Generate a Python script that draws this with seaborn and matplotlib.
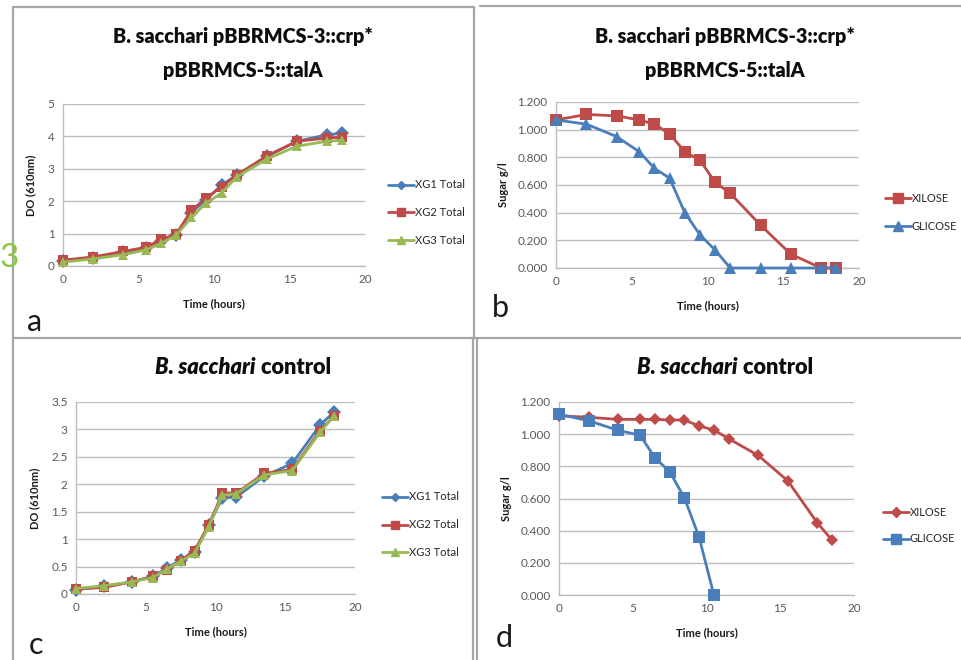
import numpy as np
import pandas as pd
import matplotlib
matplotlib.use("Agg")
import matplotlib.pyplot as plt
import seaborn as sns
from matplotlib.lines import Line2D

sns.set_theme(style="white")
plt.rcParams['font.family'] = ['Lato', 'DejaVu Sans']

# ---------------- data ----------------
time = [0, 2, 4, 5.5, 6.5, 7.5, 8.5, 9.5, 10.5, 11.5, 13.5, 15.5, 17.5, 18.5]

# panel a: growth, pBBRMCS-3::crp* pBBRMCS-5::talA
a_xg1 = [0.15, 0.25, 0.42, 0.55, 0.78, 0.97, 1.65, 2.05, 2.50, 2.80, 3.38, 3.85, 4.05, 4.10]
a_xg2 = [0.18, 0.28, 0.45, 0.58, 0.82, 0.98, 1.72, 2.10, 2.45, 2.80, 3.40, 3.85, 3.95, 3.98]
a_xg3 = [0.12, 0.22, 0.35, 0.50, 0.70, 0.95, 1.50, 1.95, 2.25, 2.75, 3.30, 3.70, 3.85, 3.88]

# panel b: sugars, pBBRMCS-3::crp* pBBRMCS-5::talA
b_xilose = [1.07, 1.11, 1.10, 1.07, 1.04, 0.97, 0.84, 0.78, 0.62, 0.54, 0.31, 0.10, 0.0, 0.0]
b_glicose = [1.07, 1.04, 0.95, 0.84, 0.72, 0.65, 0.40, 0.24, 0.13, 0.0, 0.0, 0.0, 0.0, 0.0]

# panel c: growth, control
c_xg1 = [0.08, 0.14, 0.22, 0.32, 0.47, 0.62, 0.76, 1.25, 1.75, 1.77, 2.15, 2.38, 3.08, 3.32]
c_xg2 = [0.09, 0.12, 0.22, 0.32, 0.44, 0.61, 0.79, 1.25, 1.84, 1.84, 2.20, 2.27, 2.98, 3.24]
c_xg3 = [0.10, 0.15, 0.22, 0.30, 0.45, 0.60, 0.74, 1.22, 1.80, 1.83, 2.17, 2.25, 2.95, 3.25]

# panel d: sugars, control
d_time_gli = [0, 2, 4, 5.5, 6.5, 7.5, 8.5, 9.5, 10.5]
d_xilose = [1.115, 1.105, 1.092, 1.092, 1.092, 1.088, 1.088, 1.051, 1.026, 0.972, 0.868, 0.711, 0.450, 0.342]
d_glicose = [1.123, 1.084, 1.024, 0.993, 0.854, 0.767, 0.605, 0.359, 0.0]

growth_names = ["XG1 Total", "XG2 Total", "XG3 Total"]
sugar_names = ["XILOSE", "GLICOSE"]
title_top = ["B. sacchari pBBRMCS-3::crp*", "pBBRMCS-5::talA"]
panel_letters = ["a", "b", "c", "d"]

BLUE = "#4A7EBB"
RED = "#BE4B48"
GREEN = "#98B954"
TICKC = "#595959"
GRIDC = "#BDBDBD"

W, H = 961, 660
fig = plt.figure(figsize=(W / 100, H / 100), dpi=100)


def ax_at(x0, y0, x1, y1):
    return fig.add_axes([x0 / W, 1 - y1 / H, (x1 - x0) / W, (y1 - y0) / H])


def long_df(t, series, names):
    rows = []
    for name, vals in zip(names, series):
        for tt, v in zip(t, vals):
            rows.append({"Time": tt, "val": v, "series": name})
    return pd.DataFrame(rows)


def style_ax(ax, ymax, ystep, fmt):
    ax.set_xlim(0, 20)
    ax.set_ylim(0, ymax)
    ax.set_xticks(np.arange(0, 21, 5))
    yt = np.arange(0, ymax + 1e-9, ystep)
    ax.set_yticks(yt)
    ax.set_yticklabels([fmt(v) for v in yt])
    ax.tick_params(axis="both", length=0, labelsize=8.5, colors=TICKC, pad=6)
    ax.grid(axis="y", color=GRIDC, lw=1)
    ax.grid(axis="x", visible=False)
    ax.set_axisbelow(True)
    for s in ["top", "right"]:
        ax.spines[s].set_visible(False)
    for s in ["left", "bottom"]:
        ax.spines[s].set_color(GRIDC)
        ax.spines[s].set_linewidth(1)
        ax.spines[s].set_zorder(0.5)
    for ln in ax.get_lines():
        ln.set_clip_on(False)
        ln.set_zorder(3)
    ax.set_xlabel("Time (hours)", fontsize=8, fontweight="bold", color="#1a1a1a", labelpad=9)
    ax.set_facecolor("white")


def fmt_int(v):
    return f"{v:g}"


def fmt3(v):
    return f"{v:.3f}"


def add_legend(entries, x0, ys):
    for (lab, col, mk, ms), y in zip(entries, ys):
        yf = 1 - y / H
        fig.add_artist(Line2D([x0 / W, (x0 + 26) / W], [yf, yf], color=col, lw=2,
                              transform=fig.transFigure))
        fig.add_artist(Line2D([(x0 + 13) / W], [yf], color=col, marker=mk, ms=ms,
                              transform=fig.transFigure))
        fig.text((x0 + 27) / W, yf, lab, fontsize=8, color="#262626", va="center", ha="left")


# ---------- panel a ----------
axa = ax_at(63, 104, 365, 266)
dfa = long_df(time, [a_xg1, a_xg2, a_xg3], growth_names)
sns.lineplot(data=dfa, x="Time", y="val", hue="series", style="series",
             palette=[BLUE, RED, GREEN], markers=["D", "s", "^"], dashes=False,
             lw=2, markersize=7, markeredgewidth=0, ax=axa, legend=False)
style_ax(axa, 5, 1, fmt_int)
axa.set_ylabel("DO (610nm)", fontsize=8, fontweight="bold", color="#1a1a1a", labelpad=8)

# ---------- panel b ----------
axb = ax_at(556, 102, 859, 268)
dfb = long_df(time, [b_xilose, b_glicose], sugar_names)
sns.lineplot(data=dfb, x="Time", y="val", hue="series", style="series",
             palette=[RED, BLUE], markers=["s", "^"], dashes=False,
             lw=2, markersize=8, markeredgewidth=0, ax=axb, legend=False)
style_ax(axb, 1.2, 0.2, fmt3)
axb.set_ylabel("Sugar g/l", fontsize=8, fontweight="bold", color="#1a1a1a", labelpad=6)

# ---------- panel c ----------
axc = ax_at(76, 402, 355, 594)
dfc = long_df(time, [c_xg1, c_xg2, c_xg3], growth_names)
sns.lineplot(data=dfc, x="Time", y="val", hue="series", style="series",
             palette=[BLUE, RED, GREEN], markers=["D", "s", "^"], dashes=False,
             lw=2, markersize=7, markeredgewidth=0, ax=axc, legend=False)
style_ax(axc, 3.5, 0.5, fmt_int)
axc.set_ylabel("DO (610nm)", fontsize=8, fontweight="bold", color="#1a1a1a", labelpad=8)

# ---------- panel d ----------
axd = ax_at(559, 402, 854, 595)
dfd = pd.concat([
    long_df(time, [d_xilose], ["XILOSE"]),
    long_df(d_time_gli, [d_glicose], ["GLICOSE"]),
])
sns.lineplot(data=dfd, x="Time", y="val", hue="series", style="series",
             palette=[RED, BLUE], markers=["D", "s"], dashes=False,
             lw=2, markersize=9, markeredgewidth=0, ax=axd, legend=False)
for ln in axd.get_lines():
    if ln.get_marker() == "D":
        ln.set_markersize(6)
style_ax(axd, 1.2, 0.2, fmt3)
axd.set_ylabel("Sugar g/l", fontsize=8, fontweight="bold", color="#1a1a1a", labelpad=6)

# ---------- legends ----------
add_legend([(growth_names[0], BLUE, "D", 4), (growth_names[1], RED, "s", 6),
            (growth_names[2], GREEN, "^", 6)], 388, [185, 212, 240])
add_legend([(sugar_names[0], RED, "s", 7), (sugar_names[1], BLUE, "^", 7)],
           885, [198, 226])
add_legend([(growth_names[0], BLUE, "D", 4), (growth_names[1], RED, "s", 6),
            (growth_names[2], GREEN, "^", 6)], 382, [497, 525, 552])
add_legend([(sugar_names[0], RED, "D", 5), (sugar_names[1], BLUE, "s", 7)],
           883, [512, 539])

# ---------- titles ----------
TFS = 14.2
for cx in (243, 725):
    fig.text(cx / W, 1 - 37 / H, title_top[0], fontsize=TFS, fontweight="heavy",
             ha="center", va="center", color="#0d0d0d")
    fig.text(cx / W, 1 - 71 / H, title_top[1], fontsize=TFS, fontweight="heavy",
             ha="center", va="center", color="#0d0d0d")

fig.canvas.draw()
renderer = fig.canvas.get_renderer()
for cx in (243, 725):
    t1 = fig.text(0, 1 - 368 / H, "B. sacchari", fontsize=TFS + 1.5, fontweight="heavy",
                  style="italic", ha="left", va="center", color="#0d0d0d")
    t2 = fig.text(0, 1 - 368 / H, " control", fontsize=TFS + 1.5, fontweight="heavy",
                  ha="left", va="center", color="#0d0d0d")
    w1 = t1.get_window_extent(renderer).width
    w2 = t2.get_window_extent(renderer).width
    start = cx - (w1 + w2) / 2
    t1.set_x(start / W)
    t2.set_x((start + w1) / W)

# ---------- panel letters ----------
for lab, (px, py) in zip(panel_letters, [(35, 322), (500, 308), (36, 645), (504, 638)]):
    fig.text(px / W, 1 - py / H, lab, fontsize=22, ha="center", va="center", color="#1a1a1a")

# stray green glyph at left edge
fig.text(0 / W, 1 - 258 / H, "3", fontsize=24, color="#8DC63F", ha="left", va="center")

# ---------- panel borders ----------
BC = "#A6A6A6"
def fline(x0, y0, x1, y1, lw=1.6):
    fig.add_artist(Line2D([x0 / W, x1 / W], [1 - y0 / H, 1 - y1 / H], color=BC, lw=lw,
                          transform=fig.transFigure))

fline(13, 6.5, 474, 6.5)
fline(480, 6, 961, 6)
fline(13, 6.5, 13, 660)
fline(474, 6.5, 474, 338)
fline(13, 338, 961, 338)
fline(473, 338, 473, 660)
fline(477, 338, 477, 660)

fig.savefig("out.png", dpi=100, facecolor="white")
